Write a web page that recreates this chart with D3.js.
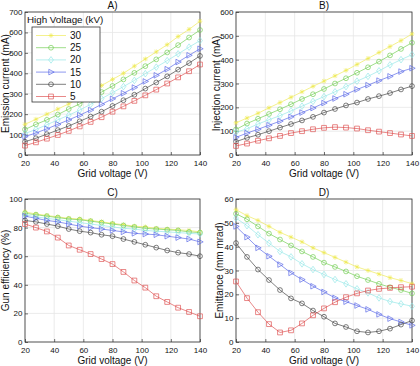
<!DOCTYPE html>
<html>
<head>
<meta charset="utf-8">
<script src="https://cdn.jsdelivr.net/npm/d3@7"></script>
<style>
  body { margin: 0; background: #fff; }
  svg { font-family: "Liberation Sans", Arial, sans-serif; }
</style>
</head>
<body>
<div id="chart"></div>
<script>
// Grid voltage (V) sample points
const gridVoltage = [20, 27.5, 35, 42.5, 50, 57.5, 65, 72.5, 80, 87.5, 95, 102.5, 110, 117.5, 125, 132.5, 140];
// High voltage series (kV), legend order
const highVoltage = ["30", "25", "20", "15", "10", "5"];

// A) Emission current (mA)
const emission30 = [150, 175, 200, 225, 250, 280, 310, 340, 370, 400, 435, 470, 505, 540, 580, 615, 655];
const emission25 = [125, 150, 172, 198, 225, 250, 280, 308, 338, 370, 402, 435, 468, 502, 538, 575, 612];
const emission20 = [105, 125, 148, 172, 195, 220, 248, 276, 305, 335, 365, 398, 430, 462, 495, 528, 560];
const emission15 = [90, 108, 128, 150, 172, 195, 220, 248, 275, 302, 330, 360, 390, 420, 455, 488, 520];
const emission10 = [65, 82, 102, 122, 142, 165, 188, 212, 240, 268, 295, 325, 355, 385, 418, 450, 485];
const emission5 = [46, 62, 80, 98, 118, 140, 162, 185, 212, 238, 265, 292, 320, 350, 380, 410, 443];

// B) Injection current (mA)
const injection30 = [135, 155, 175, 198, 220, 242, 265, 288, 310, 332, 355, 380, 405, 430, 455, 480, 508];
const injection25 = [107, 132, 152, 172, 192, 213, 235, 255, 277, 300, 322, 345, 368, 392, 418, 445, 471];
const injection20 = [95, 110, 130, 148, 165, 185, 205, 225, 245, 265, 287, 310, 330, 353, 378, 400, 421];
const injection15 = [74, 92, 108, 125, 142, 160, 178, 197, 218, 237, 255, 275, 293, 312, 330, 350, 364];
const injection10 = [56, 72, 85, 100, 115, 130, 145, 160, 178, 193, 208, 220, 235, 247, 260, 275, 289];
const injection5 = [38, 48, 60, 70, 80, 92, 100, 108, 114, 117, 115, 111, 104, 98, 92, 86, 80];

// C) Gun efficiency (%)
const efficiency30 = [91, 89.5, 88.5, 87.5, 86.5, 86, 85, 84, 83, 82, 81, 80.5, 79.5, 79, 78.5, 78, 77];
const efficiency25 = [90, 89, 88, 87, 86, 85.5, 84.5, 83.5, 82.5, 81.5, 80.5, 79.5, 79, 78.5, 78, 77, 76.5];
const efficiency20 = [89, 87.5, 86.5, 85.5, 84.5, 83.5, 82.5, 81.5, 80.5, 79.5, 79, 78, 77.5, 77, 76.5, 76, 75.5];
const efficiency15 = [88, 86.5, 85, 84, 82.5, 81, 80, 79, 78, 77, 76, 75.5, 75, 74, 73, 72, 70];
const efficiency10 = [85, 84, 82.5, 81, 79, 77.5, 76.5, 75, 74, 72, 70, 68, 66, 64, 62.5, 61.5, 60];
const efficiency5 = [82.5, 80, 77.3, 73, 67.5, 64.5, 61.5, 58, 54.5, 49, 43, 38, 32, 28, 24, 21, 18];

// D) Emittance (mm mrad)
const emittance30 = [55.5, 53, 51, 48.5, 46, 44, 42, 39.5, 37.5, 35.5, 33.5, 31.5, 30, 28.5, 27, 25.8, 24.5];
const emittance25 = [53.8, 51.5, 48.5, 45.5, 43, 40.5, 38, 35.7, 33.3, 31.5, 29.6, 27.6, 26, 24.4, 23, 21.8, 20.4];
const emittance20 = [52, 48.8, 45, 41.5, 38, 35.7, 32.8, 30.4, 28.3, 26.2, 24.4, 22.3, 20.6, 18.5, 17, 16, 15];
const emittance15 = [48.5, 44, 39.5, 36, 32.5, 29, 26.2, 23.4, 21, 18.5, 16.9, 15.3, 13.7, 11.6, 9.8, 8.4, 7];
const emittance10 = [41.5, 35.7, 30.4, 26, 21.8, 18.3, 16.2, 13.2, 10.6, 7.8, 6.3, 4.5, 4, 4.5, 5.6, 7.3, 9];
const emittance5 = [25.4, 18.4, 12.5, 7.5, 4, 4.9, 7.8, 11.2, 14.1, 16.7, 18.8, 20.4, 21.6, 22.3, 22.7, 23, 23.2];

// Series styling (colour + marker), same order as highVoltage
const seriesColors = ["#eeea50", "#6ccc4c", "#90e6e6", "#5262e6", "#3a3a3a", "#dd4848"];
const seriesMarkers = ["star", "circle", "diamond", "triangle", "circle", "square"];

const width = 420, height = 366;
const svg = d3.select("#chart").append("svg")
    .attr("width", width)
    .attr("height", height);

// Marker path generator (centered at 0,0)
function markerPath(type) {
    const r = 2.4;
    if (type === "circle") return d3.symbol(d3.symbolCircle, Math.PI * r * r)();
    if (type === "square") return `M${-r},${-r}H${r}V${r}H${-r}Z`;
    if (type === "diamond") return `M0,${-r - 0.9}L${r},0L0,${r + 0.9}L${-r},0Z`;
    if (type === "triangle") return `M${-r + 0.2},${-r - 0.4}L${r + 0.8},0L${-r + 0.2},${r + 0.4}Z`;
    // asterisk
    const s = r * 0.75;
    return `M${-r},0H${r}M0,${-r}V${r}M${-s},${-s}L${s},${s}M${-s},${s}L${s},${-s}`;
}

// One panel of the 2x2 figure
function drawPanel({ left, right, top, bottom, yMax, yTicks, yLabel, labelGap, title, series, legend }) {
    const x = d3.scaleLinear().domain([20, 140]).range([left, right]);
    const y = d3.scaleLinear().domain([0, yMax]).range([bottom, top]);
    const g = svg.append("g");

    // grid lines
    g.append("g").selectAll("line")
        .data(x.ticks(6))
        .join("line")
        .attr("x1", d => x(d)).attr("x2", d => x(d))
        .attr("y1", top).attr("y2", bottom)
        .attr("stroke", "#e6e6e6").attr("stroke-width", 0.8);
    g.append("g").selectAll("line")
        .data(yTicks)
        .join("line")
        .attr("x1", left).attr("x2", right)
        .attr("y1", d => y(d)).attr("y2", d => y(d))
        .attr("stroke", "#e6e6e6").attr("stroke-width", 0.8);

    // axes (ticks inside, like MATLAB)
    const xAxis = g.append("g")
        .attr("transform", `translate(0,${bottom})`)
        .call(d3.axisBottom(x).tickValues(x.ticks(6)).tickSizeInner(-3).tickSizeOuter(0).tickPadding(5));
    const yAxis = g.append("g")
        .attr("transform", `translate(${left},0)`)
        .call(d3.axisLeft(y).tickValues(yTicks).tickSizeInner(-3).tickSizeOuter(0).tickPadding(2.5));
    [xAxis, yAxis].forEach(a => {
        a.select(".domain").remove();
        a.selectAll("line").attr("stroke", "#333").attr("stroke-width", 0.7);
        a.selectAll("text").attr("fill", "#111").style("font-size", "8px");
    });

    // box
    g.append("rect")
        .attr("x", left).attr("y", top)
        .attr("width", right - left).attr("height", bottom - top)
        .attr("fill", "none").attr("stroke", "#333").attr("stroke-width", 0.8);

    // series lines and markers
    const line = d3.line().x((d, i) => x(gridVoltage[i])).y(d => y(d));
    series.forEach((vals, k) => {
        const sg = g.append("g");
        sg.append("path")
            .attr("d", line(vals))
            .attr("fill", "none")
            .attr("stroke", seriesColors[k])
            .attr("stroke-width", 0.65);
        sg.selectAll("path.m")
            .data(vals)
            .join("path")
            .attr("class", "m")
            .attr("transform", (d, i) => `translate(${x(gridVoltage[i])},${y(d)})`)
            .attr("d", markerPath(seriesMarkers[k]))
            .attr("fill", "none")
            .attr("stroke", seriesColors[k])
            .attr("stroke-width", 0.65);
    });

    // title and labels
    g.append("text")
        .attr("x", (left + right) / 2).attr("y", top - 3.5)
        .attr("text-anchor", "middle")
        .style("font-size", "10px")
        .attr("fill", "#111")
        .text(title);
    g.append("text")
        .attr("x", (left + right) / 2).attr("y", bottom + 21.5)
        .attr("text-anchor", "middle")
        .style("font-size", "10px")
        .attr("fill", "#111")
        .text("Grid voltage (V)");
    g.append("text")
        .attr("transform", `translate(${left - labelGap},${(top + bottom) / 2}) rotate(-90)`)
        .attr("text-anchor", "middle")
        .style("font-size", "10px")
        .attr("fill", "#111")
        .text(yLabel);

    if (legend) {
        const lg = g.append("g");
        lg.append("text")
            .attr("x", 27).attr("y", 23)
            .style("font-size", "9.8px")
            .attr("fill", "#111")
            .text("High Voltage (kV)");
        lg.append("rect")
            .attr("x", 32).attr("y", 27)
            .attr("width", 68).attr("height", 75)
            .attr("fill", "#fff").attr("stroke", "#333").attr("stroke-width", 0.8);
        highVoltage.forEach((hv, k) => {
            const ly = 35.5 + k * 12.2;
            lg.append("line")
                .attr("x1", 36).attr("x2", 66)
                .attr("y1", ly).attr("y2", ly)
                .attr("stroke", seriesColors[k]).attr("stroke-width", 0.65);
            lg.append("path")
                .attr("transform", `translate(51,${ly})`)
                .attr("d", markerPath(seriesMarkers[k]))
                .attr("fill", "none")
                .attr("stroke", seriesColors[k]).attr("stroke-width", 0.65);
            lg.append("text")
                .attr("x", 70).attr("y", ly + 3.5)
                .style("font-size", "10px")
                .attr("fill", "#111")
                .text(hv);
        });
    }
}

drawPanel({
    left: 25, right: 200, top: 12, bottom: 155, yMax: 700,
    yTicks: d3.range(0, 701, 100), yLabel: "Emission current (mA)", labelGap: 16, title: "A)",
    series: [emission30, emission25, emission20, emission15, emission10, emission5], legend: true
});
drawPanel({
    left: 236, right: 412, top: 12, bottom: 155, yMax: 600,
    yTicks: d3.range(0, 601, 100), yLabel: "Injection current (mA)", labelGap: 16, title: "B)",
    series: [injection30, injection25, injection20, injection15, injection10, injection5]
});
drawPanel({
    left: 25, right: 200, top: 199, bottom: 342, yMax: 100,
    yTicks: d3.range(0, 101, 20), yLabel: "Gun efficiency (%)", labelGap: 16, title: "C)",
    series: [efficiency30, efficiency25, efficiency20, efficiency15, efficiency10, efficiency5]
});
drawPanel({
    left: 236, right: 412, top: 199, bottom: 342, yMax: 60,
    yTicks: d3.range(0, 61, 10), yLabel: "Emittance (mm mrad)", labelGap: 13, title: "D)",
    series: [emittance30, emittance25, emittance20, emittance15, emittance10, emittance5]
});
</script>
</body>
</html>
